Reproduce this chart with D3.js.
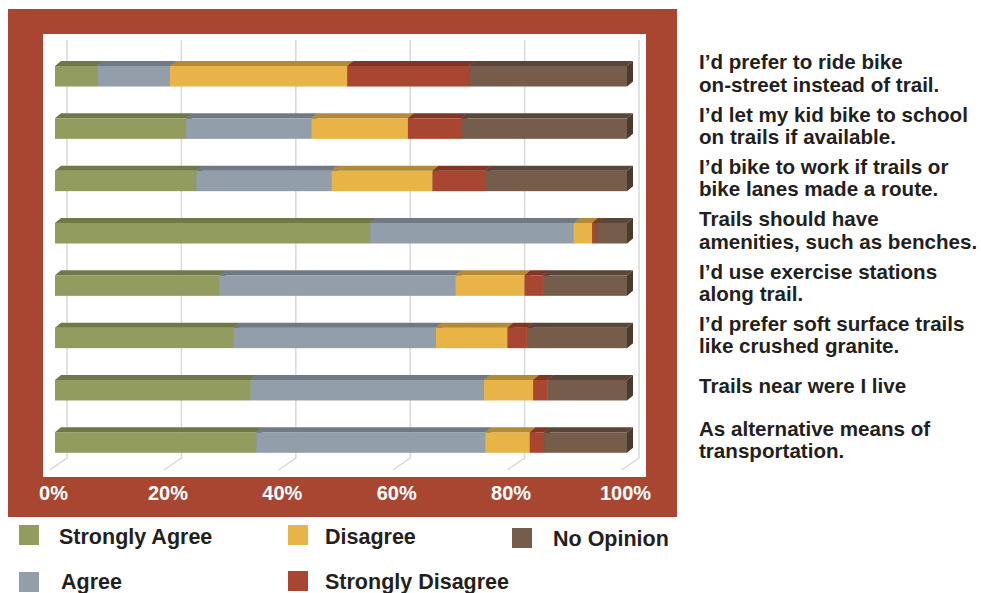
<!DOCTYPE html>
<html>
<head>
<meta charset="utf-8">
<script src="https://cdn.jsdelivr.net/npm/d3@7"></script>
<style>
  html, body { margin: 0; padding: 0; background: #fff; }
  svg { display: block; }
  text { font-family: "Liberation Sans", Arial, Helvetica, sans-serif; font-weight: bold; }
</style>
</head>
<body>
<svg id="chart" width="981" height="593"></svg>
<script>
// Survey statements (top to bottom), each split into its display lines
const statements = [
  ["I’d prefer to ride bike", "on-street instead of trail."],
  ["I’d let my kid bike to school", "on trails if available."],
  ["I’d bike to work if trails or", "bike lanes made a route."],
  ["Trails should have", "amenities, such as benches."],
  ["I’d use exercise stations", "along trail."],
  ["I’d prefer soft surface trails", "like crushed granite."],
  ["Trails near were I live"],
  ["As alternative means of", "transportation."]
];

// Response categories and share of answers (%) per statement
const seriesNames = ["Strongly Agree", "Agree", "Disagree", "Strongly Disagree", "No Opinion"];
const stronglyAgree    = [7.4, 22.9, 24.7, 55.1, 28.8, 31.2, 34.2, 35.2];
const agree            = [12.7, 21.9, 23.7, 35.6, 41.2, 35.4, 40.8, 40.0];
const disagree         = [31.0, 16.9, 17.6, 3.2, 12.1, 12.5, 8.6, 7.8];
const stronglyDisagree = [21.3, 9.3, 9.2, 0.7, 3.2, 3.4, 2.5, 2.5];
const noOpinion        = [27.6, 29.0, 24.8, 5.4, 14.7, 17.5, 13.9, 14.5];

const tickValues = [0, 20, 40, 60, 80, 100];

// Palette: front face, top face, end face
const frontColors = ["#929C5F", "#929FAB", "#E8B447", "#A94631", "#765C4A"];
const topColors   = ["#6F7849", "#707A84", "#B38A37", "#803526", "#5A4638"];
const sideColors  = ["#5E663D", "#5F6770", "#98752F", "#6C2D20", "#4B3B2F"];

const svg = d3.select("#chart");

const seriesValues = [stronglyAgree, agree, disagree, stronglyDisagree, noOpinion];
const rows = statements.map((s, i) => {
  const r = { idx: i };
  seriesNames.forEach((n, k) => { r[n] = seriesValues[k][i]; });
  return r;
});

// Frame and plot panel
svg.append("rect").attr("x", 8).attr("y", 9).attr("width", 669).attr("height", 508).attr("fill", "#A94631");
svg.append("rect").attr("x", 43).attr("y", 34).attr("width", 603).attr("height", 443).attr("fill", "#fff");

// Scales
const x = d3.scaleLinear().domain([0, 100]).range([55, 627]);
const y = d3.scaleBand().domain(d3.range(statements.length))
  .range([50.1, 468.7]).paddingInner(0.608).paddingOuter(0.304);

// 3-D depth offsets
const dx = 6, dy = 5;
const wallDx = 12, floorDx = -5.4;
const wallTop = 40, wallBottom = 458, floorFront = 470;

// Gridlines on the back wall plus their run across the floor
const grid = svg.append("g").attr("stroke", "#D9D9D9").attr("stroke-width", 1.5).attr("fill", "none");
tickValues.forEach(t => {
  const xb = x(t) + wallDx, xf = x(t) + floorDx;
  grid.append("path").attr("d", `M${xb},${wallTop}L${xb},${wallBottom}L${xf},${floorFront}`);
});

// Stacked 3-D bars
const stack = d3.stack().keys(seriesNames)(rows);
const bw = y.bandwidth();
stack.forEach((layer, k) => {
  const g = svg.append("g");
  layer.forEach((d, i) => {
    const x0 = x(d[0]), x1 = x(d[1]), yt = y(i);
    if (x1 - x0 <= 0) return;
    g.append("rect").attr("x", x0).attr("y", yt).attr("width", x1 - x0).attr("height", bw)
      .attr("fill", frontColors[k]);
    g.append("path")
      .attr("d", `M${x0},${yt}L${x1},${yt}L${x1 + dx},${yt - dy}L${x0 + dx},${yt - dy}Z`)
      .attr("fill", topColors[k]);
    g.append("path")
      .attr("d", `M${x1},${yt}L${x1 + dx},${yt - dy}L${x1 + dx},${yt + bw - dy}L${x1},${yt + bw}Z`)
      .attr("fill", sideColors[k]);
  });
});

// Percentage axis along the front edge of the floor
const xAxisScale = d3.scaleLinear().domain([0, 100]).range([x(0) - 2, x(100) - 2]);
const axis = svg.append("g").attr("transform", "translate(0,486)")
  .call(d3.axisBottom(xAxisScale).tickValues(tickValues).tickSize(0).tickPadding(0).tickFormat(d => d + "%"));
axis.select(".domain").remove();
axis.selectAll("text")
  .attr("fill", "#fff").attr("dy", "0.71em")
  .style("font-family", "'Liberation Sans', Arial, sans-serif")
  .style("font-weight", "bold").style("font-size", "20px");

// Statement labels to the right of the frame
const labels = svg.append("g").attr("fill", "#231F20").style("font-size", "20.6px");
statements.forEach((lines, i) => {
  const c = y(i) + bw / 2;
  const first = lines.length === 1 ? c + 3 : c - 7;
  lines.forEach((ln, j) => {
    labels.append("text").attr("x", 699).attr("y", first + j * 22.5).text(ln);
  });
});

// Legend
const legendPos = [
  { sx: 19, sy: 525, tx: 59, ty: 544 },
  { sx: 19, sy: 572, tx: 61, ty: 589 },
  { sx: 288, sy: 525, tx: 325, ty: 544 },
  { sx: 288, sy: 571, tx: 325, ty: 589 },
  { sx: 512, sy: 528, tx: 553, ty: 546 }
];
const legend = svg.append("g");
seriesNames.forEach((n, k) => {
  const p = legendPos[k];
  legend.append("rect").attr("x", p.sx).attr("y", p.sy).attr("width", 20).attr("height", 20).attr("fill", frontColors[k]);
  legend.append("text").attr("x", p.tx).attr("y", p.ty).attr("fill", "#231F20").style("font-size", "21.5px").text(n);
});
</script>
</body>
</html>
